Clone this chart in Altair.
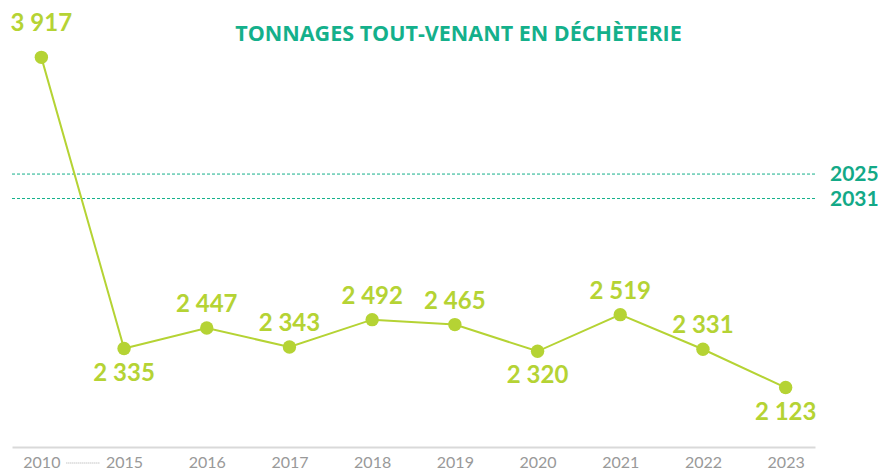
import altair as alt
import pandas as pd

years = ["2010", "2015", "2016", "2017", "2018", "2019", "2020", "2021", "2022", "2023"]
tonnages = [3917, 2335, 2447, 2343, 2492, 2465, 2320, 2519, 2331, 2123]
value_labels = ["3 917", "2 335", "2 447", "2 343", "2 492", "2 465", "2 320", "2 519", "2 331", "2 123"]
label_side = ["top", "below", "above", "above", "above", "above", "below", "above", "above", "below"]

target_years = ["2025", "2031"]
target_values = [3283, 3150]

title_text = "TONNAGES TOUT-VENANT EN DÉCHÈTERIE"

W, H = 803, 427
GREEN = "#b5d334"
TEAL = "#14b08b"
TEAL_DARK = "#13a987"

df = pd.DataFrame({"year": years, "t": tonnages, "label": value_labels, "side": label_side})
tg = pd.DataFrame({"target": target_years, "value": target_values})
brk = pd.DataFrame({"year": [years[0]], "b": [years[1]]})
ttl = pd.DataFrame({"t": [title_text]})

xs = alt.Scale(type="point", domain=years, padding=0.355)
ys = alt.Scale(domain=[1800, 4120], nice=False, zero=False)
xaxis = alt.Axis(title=None, labelAngle=0, ticks=False, grid=False,
                 domainColor="#d9d9d9", domainWidth=2,
                 labelColor="#999999", labelFont="Lato", labelFontSize=16,
                 labelPadding=7)

base = alt.Chart(df).encode(
    x=alt.X("year:O", scale=xs, sort=years, axis=xaxis),
    y=alt.Y("t:Q", scale=ys, axis=None),
)

line = base.mark_line(color=GREEN, strokeWidth=2)
pts = base.mark_circle(color=GREEN, size=180, opacity=1)

lab_kw = dict(font="Lato", fontWeight="bold", fontSize=24, color=GREEN,
              align="center", baseline="middle")
lab_above = base.transform_filter(alt.datum.side == "above").mark_text(dy=-23, **lab_kw).encode(text="label:N")
lab_below = base.transform_filter(alt.datum.side == "below").mark_text(dy=25, **lab_kw).encode(text="label:N")
lab_top = base.transform_filter(alt.datum.side == "top").mark_text(dy=-33, **lab_kw).encode(text="label:N")

rules = alt.Chart(tg).mark_rule(color=TEAL, strokeDash=[3, 2], strokeWidth=1).encode(
    y=alt.Y("value:Q", scale=ys, axis=None),
    x=alt.value(0),
    x2=alt.value(W),
)
targ_text = alt.Chart(tg).mark_text(
    align="left", baseline="middle", dy=1, font="Lato", fontWeight="bold",
    fontSize=21, color=TEAL_DARK
).encode(
    y=alt.Y("value:Q", scale=ys, axis=None),
    x=alt.value(W + 15),
    text="target:N",
)

brk_rule = alt.Chart(brk).mark_rule(
    color="#aaaaaa", strokeDash=[1, 1], strokeWidth=1, xOffset=25, x2Offset=-24
).encode(
    x=alt.X("year:O", scale=xs, sort=years, axis=xaxis),
    x2="b:O",
    y=alt.value(H + 16),
)

title = alt.Chart(ttl).mark_text(
    font="Open Sans", fontWeight="bold", fontSize=21.5, color=TEAL,
    align="center", baseline="middle"
).encode(text="t:N", x=alt.value(446.5), y=alt.value(15))

chart = alt.layer(
    rules, targ_text, line, pts, lab_above, lab_below, lab_top, brk_rule, title
).properties(
    width=W, height=H,
    autosize=alt.AutoSizeParams(type="none"),
    padding={"left": 4, "top": 12, "right": 63, "bottom": 22},
).configure_view(stroke=None)

chart.save("out.html", embed_options={"renderer": "svg", "actions": False})
